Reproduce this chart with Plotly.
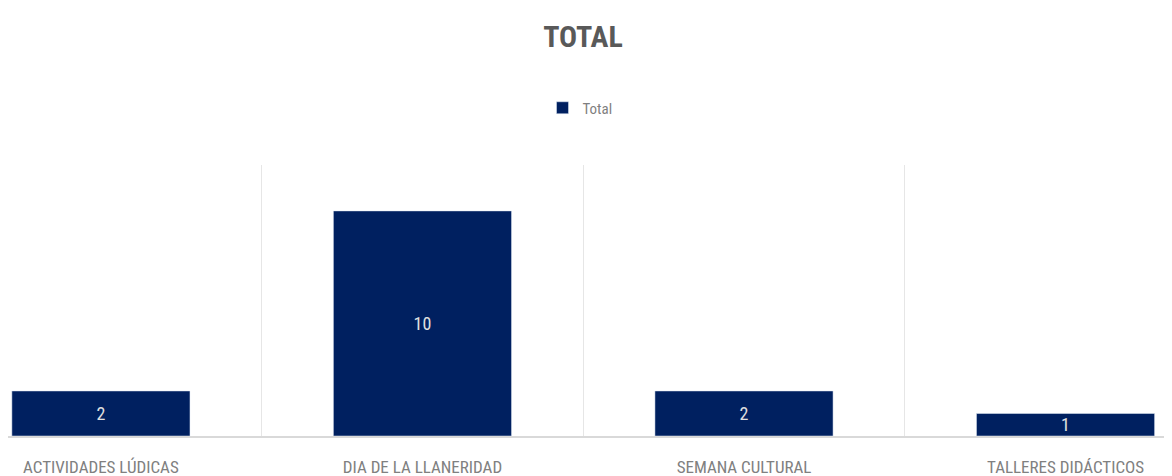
import plotly.graph_objects as go

categories = ["ACTIVIDADES LÚDICAS", "DIA DE LA LLANERIDAD", "SEMANA CULTURAL", "TALLERES DIDÁCTICOS"]
values = [2, 10, 2, 1]
series_name = "Total"

FONT = "Liberation Sans Narrow, Arial Narrow, Roboto Condensed, DejaVu Sans Condensed, sans-serif"

# page body has an 8px offset, compensate in margins
T, B = 157, 48
PH = 476 - T - B

fig = go.Figure(go.Bar(
    x=categories, y=values, name=series_name,
    marker=dict(color="#002060"),
    width=0.554,
    text=[str(v) for v in values],
    textposition="inside", insidetextanchor="middle",
    textangle=0, constraintext="none",
    textfont=dict(color="#e0e0e0", size=18, family=FONT),
    cliponaxis=False,
    showlegend=True,
))

fig.update_layout(
    width=1172, height=476,
    paper_bgcolor="white", plot_bgcolor="white",
    margin=dict(l=0, r=0, t=T, b=B),
    title=dict(text="<b>TOTAL</b>", x=575/1172, xanchor="center", y=1 - 28/476, yanchor="middle",
               font=dict(family=FONT, size=30, color="#595959")),
    legend=dict(orientation="h", x=572/1172, xanchor="center", y=1 + (T - 100)/PH, yanchor="middle",
                font=dict(family=FONT, size=15, color="#7f7f7f"), itemwidth=30),
    xaxis=dict(type="category", range=[-0.289, 3.356], tickson="boundaries",
               showgrid=True, gridcolor="#e6e6e6", gridwidth=1,
               showline=True, linecolor="#d9d9d9", linewidth=1.5,
               ticks="", ticklabelstandoff=15,
               tickfont=dict(family=FONT, size=17, color="#808080")),
    yaxis=dict(range=[0, 12.04], visible=False, showgrid=False),
    font=dict(family=FONT),
)

fig.write_html("out.html")
